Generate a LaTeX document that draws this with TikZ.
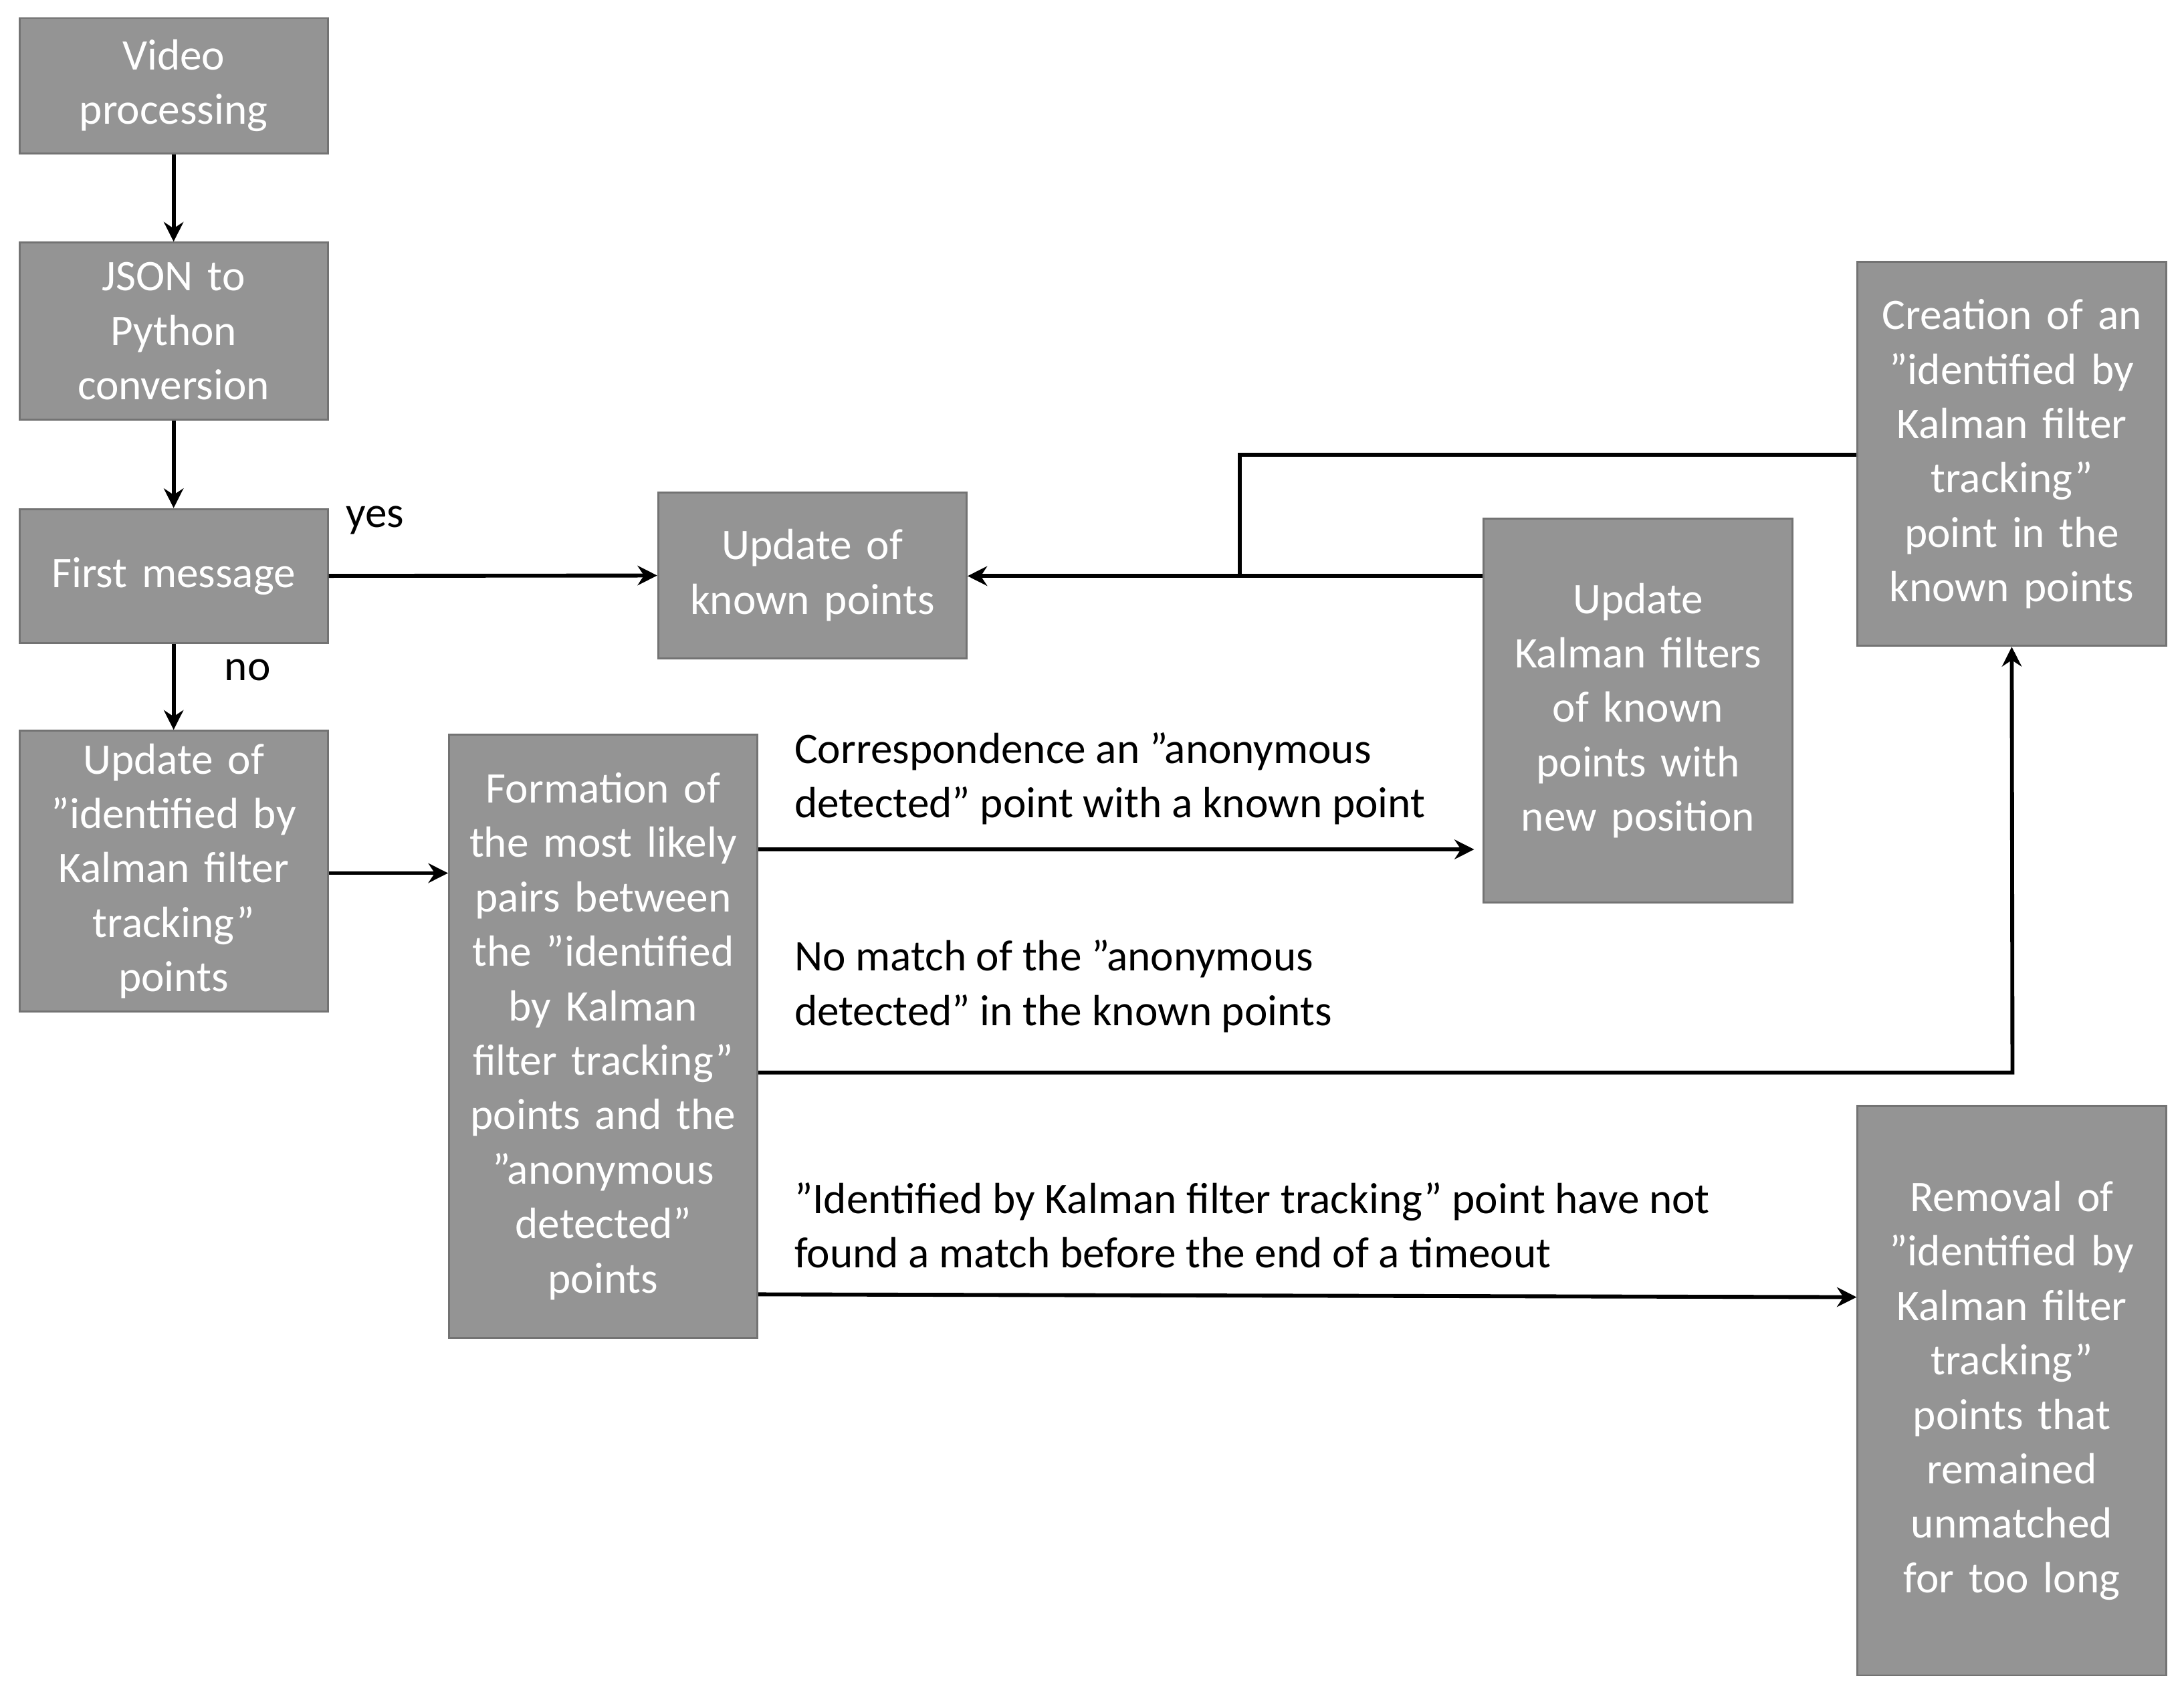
\documentclass[tikz,border=0pt]{standalone}
\usepackage{fontspec}
\setmainfont{Carlito}
\usetikzlibrary{arrows.meta}
\begin{document}
\begin{tikzpicture}[x=0.01cm,y=-0.01cm,
 box/.style={draw=black!55,fill=black!42,text=white,inner sep=0pt,align=center,
   font=\fontsize{8.9}{11.1}\selectfont,text width=2.1cm,minimum width=2.21cm},
 lab/.style={font=\fontsize{8.9}{11.1}\selectfont,align=left,inner sep=0pt},
 arr/.style={line width=0.8pt,-{Stealth[length=4pt,width=4pt]}},
 ln/.style={line width=0.8pt}]
\useasboundingbox (0,0) rectangle (1566,1213);
\node[box,minimum height=0.97cm] (video) at (124.5,61.5) {Video\\processing};
\node[box,minimum height=1.27cm] (json) at (124.5,237.5) {JSON to\\Python\\conversion};
\node[box,minimum height=0.96cm] (first) at (124.5,413) {First message};
\node[box,minimum height=2.01cm] (updid) at (124.5,624.5) {Update of\\"identified by\\Kalman filter\\tracking"\\points};
\node[box,minimum height=4.32cm] (form) at (432.5,743) {Formation of\\the most likely\\pairs between\\the "identified\\by Kalman\\filter tracking"\\points and the\\"anonymous\\detected"\\points};
\node[box,minimum height=1.19cm] (known) at (582.5,412.5) {Update of\\known points};
\node[box,minimum height=2.75cm] (kal) at (1174.5,509.5) {Update\\Kalman filters\\of known\\points with\\new position};
\node[box,minimum height=2.75cm] (crea) at (1442.5,325.5) {Creation of an\\"identified by\\Kalman filter\\tracking"\\point in the\\known points};
\node[box,minimum height=4.08cm] (rem) at (1442.5,997) {Removal of\\"identified by\\Kalman filter\\tracking"\\points that\\remained\\unmatched\\for too long};
\draw[arr] (video) -- (json);
\draw[arr] (json) -- (first);
\draw[arr] (first) -- (updid) node[lab,pos=0.3,right=10pt] {no};
\draw[arr] (first) -- (known);
\node[lab] (yes) at (269,373) {yes};
\draw[arr] (updid.east|-0,626) -- (form.west|-0,626);
\coordinate (kin) at (1057,609);
\draw[arr] (form.east|-0,609) -- (kin);
\node[lab,anchor=south west] (l1) at (569,592) {Correspondence an "anonymous\\detected" point with a known point};
\draw[arr] (kal.west|-0,413) -- (known.east|-0,413);
\coordinate (j) at (889,413);
\draw[ln] (crea.west|-0,326) -| (j);
\coordinate (c1) at (1443,769);
\draw[arr] (form.east|-0,769) -- (c1) -- (crea.south);
\node[lab,anchor=south west] (l2) at (569,741) {No match of the "anonymous\\detected" in the known points};
\draw[arr] (form.east|-0,928) -- (rem.west|-0,930);
\node[lab,anchor=south west] (l3) at (569,910) {"Identified by Kalman filter tracking" point have not\\found a match before the end of a timeout};
\end{tikzpicture}
\end{document}
